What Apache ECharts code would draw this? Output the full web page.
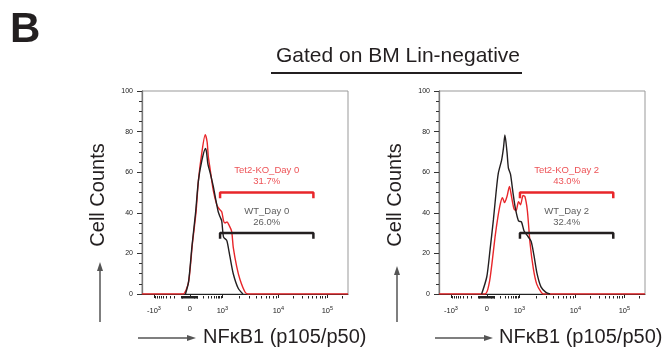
<!DOCTYPE html>
<html>
<head>
<meta charset="utf-8">
<script src="https://cdn.jsdelivr.net/npm/echarts@6/dist/echarts.min.js"></script>
<style>
html,body{margin:0;padding:0;background:#fff;}
#c{width:669px;height:352px;}
</style>
</head>
<body>
<div id="c"></div>
<script>
// x values are display channels (0-1000) of the biexponential NFkB1 scale
const xTickPos = [58, 232, 390, 662, 900];
const xTickLabels = ['-10{s|3}', '0', '10{s|3}', '10{s|4}', '10{s|5}'];

const koDay0 = [[0,0],[199,0],[214,2],[228,7],[245,25],[262,40],[274,56],[291,70],[307,78.5],[316,75],[322,67.6],[330,62],[346,51],[363,44],[374,42],[387,40.5],[396,36],[403,35],[413,35.5],[422,34],[435,31],[443,23],[460,13.4],[476,7],[500,1],[515,0],[1000,0]];
const wtDay0 = [[211,0],[226,6],[243,24],[260,40],[274,56],[291,66],[308,71.7],[313,70],[320,64],[330,60],[346,53],[359,46],[370,40.5],[379,38],[387,36],[396,28],[411,26.5],[417,24],[427,18.4],[443,10],[467,2.8],[490,0]];
const koDay2 = [[0,0],[223,0],[243,5],[257,15],[272,28],[286,38],[299,45],[308,47.5],[318,45],[330,48],[342,53],[352,48],[364,42],[374,41],[386,45.5],[396,44],[408,48.5],[417,48],[429,41],[442,25],[458,12.5],[474,5],[495,1],[506,0],[1000,0]];
const wtDay2 = [[207,0],[232,8.5],[248,22],[264,36.5],[277,50],[288,59.5],[304,66],[313,72],[320,78.3],[330,70],[337,62],[347,59],[359,50],[371,42],[386,36],[400,35.5],[413,31],[427,29],[447,26],[461,19],[476,10],[495,3.5],[519,0.8],[539,0]];

const gateDay0 = [379, 832];
const gateDay2 = [393, 846];
const gateLevelKO = 50;
const gateLevelWT = 30;
const labelsKO = ['Tet2-KO_Day 0', 'Tet2-KO_Day 2'];
const labelsWT = ['WT_Day 0', 'WT_Day 2'];
const pctKO = ['31.7%', '43.0%'];
const pctWT = ['26.0%', '32.4%'];

const RED = '#e8262a';
const BLK = '#231f20';

// minor tick positions of the display scale
function minorTicks() {
  const out = [];
  const zero = xTickPos[1];
  const w = 150, A = Math.asinh(1000 / w);
  for (let k = 1; k <= 9; k++) {
    out.push(zero + (xTickPos[2] - zero) * Math.asinh(k * 100 / w) / A);
    out.push(zero - (zero - xTickPos[0]) * Math.asinh(k * 100 / w) / A);
    out.push(zero + (xTickPos[2] - zero) * Math.asinh(k * 10 / w) / A);
    out.push(zero - (zero - xTickPos[0]) * Math.asinh(k * 10 / w) / A);
  }
  for (let k = 2; k <= 9; k++) {
    out.push(xTickPos[2] + (xTickPos[3] - xTickPos[2]) * Math.log10(k));
    out.push(xTickPos[3] + (xTickPos[4] - xTickPos[3]) * Math.log10(k));
    const p = xTickPos[4] + (xTickPos[4] - xTickPos[3]) * Math.log10(k);
    if (p <= 1000) out.push(p);
  }
  return out;
}
const minorPos = minorTicks();

const grids = [
  {left: 142, top: 91, width: 206, height: 203},
  {left: 439, top: 91, width: 206, height: 203}
];

function majorX(i) {
  return {
    gridIndex: i, type: 'value', min: 0, max: 1000, position: 'bottom', offset: 2,
    axisLine: {show: true, lineStyle: {color: '#222', width: 1}},
    axisTick: {show: true, customValues: xTickPos, length: 4, lineStyle: {color: '#222', width: 1}},
    axisLabel: {
      show: true, customValues: xTickPos, margin: 9, fontSize: 7.5, color: '#222',
      fontFamily: 'Liberation Sans, Arial, sans-serif',
      formatter: function (v) {
        const idx = xTickPos.indexOf(v);
        return idx >= 0 ? xTickLabels[idx] : '';
      },
      rich: {s: {fontSize: 5.5, verticalAlign: 'top', padding: [0, 0, 5, 0], color: '#222', fontFamily: 'Liberation Sans, Arial, sans-serif'}}
    },
    splitLine: {show: false}
  };
}
function minorX(i) {
  return {
    gridIndex: i, type: 'value', min: 0, max: 1000, position: 'bottom', offset: 2,
    axisLine: {show: false},
    axisTick: {show: true, customValues: minorPos, length: 2.5, lineStyle: {color: '#222', width: 1}},
    axisLabel: {show: false},
    splitLine: {show: false}
  };
}
function yAx(i) {
  return {
    gridIndex: i, type: 'value', min: 0, max: 100, interval: 20,
    axisLine: {show: true, lineStyle: {color: '#777', width: 1.3}},
    axisTick: {show: true, length: 5, lineStyle: {color: '#333', width: 1}},
    minorTick: {show: true, splitNumber: 4, length: 3, lineStyle: {color: '#333', width: 1}},
    axisLabel: {fontSize: 7, color: '#222', margin: 9, fontFamily: 'Liberation Sans, Arial, sans-serif'},
    splitLine: {show: false}
  };
}

function histo(data, color, xi, yi, z) {
  return {type: 'line', data: data, xAxisIndex: xi, yAxisIndex: yi, showSymbol: false, symbol: 'none',
    smooth: 0.25, z: z, lineStyle: {color: color, width: 1.4}, silent: true};
}
function gate(range, level, color, xi, yi) {
  return {type: 'line', xAxisIndex: xi, yAxisIndex: yi, symbol: 'none', showSymbol: false, z: 5,
    data: [[range[0], level - 2.8], [range[0], level], [range[1], level], [range[1], level - 2.8]],
    lineStyle: {color: color, width: 2.5}, silent: true};
}
function gateLabel(range, level, text, color, xi, yi) {
  return {type: 'scatter', xAxisIndex: xi, yAxisIndex: yi, symbolSize: 1, z: 6,
    itemStyle: {color: 'rgba(0,0,0,0)'},
    data: [[(range[0] + range[1]) / 2, level]],
    label: {show: true, position: 'top', distance: 5, formatter: text, color: color, fontSize: 9.5,
      lineHeight: 11, align: 'center', fontFamily: 'Liberation Sans, Arial, sans-serif'},
    silent: true};
}

const series = [
  histo(koDay0, RED, 0, 0, 3), histo(wtDay0, BLK, 0, 0, 4),
  gate(gateDay0, gateLevelKO, RED, 0, 0), gate(gateDay0, gateLevelWT, BLK, 0, 0),
  gateLabel(gateDay0, gateLevelKO, labelsKO[0] + '\n' + pctKO[0], RED, 0, 0),
  gateLabel(gateDay0, gateLevelWT, labelsWT[0] + '\n' + pctWT[0], '#333', 0, 0),
  histo(koDay2, RED, 2, 1, 3), histo(wtDay2, BLK, 2, 1, 4),
  gate(gateDay2, gateLevelKO, RED, 2, 1), gate(gateDay2, gateLevelWT, BLK, 2, 1),
  gateLabel(gateDay2, gateLevelKO, labelsKO[1] + '\n' + pctKO[1], RED, 2, 1),
  gateLabel(gateDay2, gateLevelWT, labelsWT[1] + '\n' + pctWT[1], '#333', 2, 1)
];

const FONT = 'Liberation Sans, Arial, sans-serif';
const GRAY = '#555';
function arrowUp(x, yBottom, yTip) {
  return [
    {type: 'line', shape: {x1: x, y1: yBottom, x2: x, y2: yTip + 7}, style: {stroke: GRAY, lineWidth: 1.5}},
    {type: 'polygon', shape: {points: [[x, yTip], [x - 3, yTip + 9], [x + 3, yTip + 9]]}, style: {fill: GRAY}}
  ];
}
function arrowRight(x1, x2, y) {
  return [
    {type: 'line', shape: {x1: x1, y1: y, x2: x2 - 7, y2: y}, style: {stroke: GRAY, lineWidth: 1.5}},
    {type: 'polygon', shape: {points: [[x2, y], [x2 - 9, y - 3], [x2 - 9, y + 3]]}, style: {fill: GRAY}}
  ];
}
const graphics = [
  {type: 'text', left: 10, top: 9, style: {text: 'B', font: 'bold 42px ' + FONT, fill: '#231f20'}},
  {type: 'text', x: 398, y: 56, style: {text: 'Gated on BM Lin-negative', font: '21px ' + FONT, fill: '#231f20', align: 'center', verticalAlign: 'middle'}},
  {type: 'line', shape: {x1: 271, y1: 73, x2: 522, y2: 73}, style: {stroke: '#231f20', lineWidth: 2}},
  {type: 'text', x: 98, y: 195, rotation: Math.PI / 2, style: {text: 'Cell Counts', font: '20px ' + FONT, fill: '#231f20', align: 'center', verticalAlign: 'middle'}},
  {type: 'text', x: 395, y: 195, rotation: Math.PI / 2, style: {text: 'Cell Counts', font: '20px ' + FONT, fill: '#231f20', align: 'center', verticalAlign: 'middle'}},
  {type: 'text', x: 203, y: 337, style: {text: 'NF\u03baB1 (p105/p50)', font: '20px ' + FONT, fill: '#231f20', align: 'left', verticalAlign: 'middle'}},
  {type: 'text', x: 499, y: 337, style: {text: 'NF\u03baB1 (p105/p50)', font: '20px ' + FONT, fill: '#231f20', align: 'left', verticalAlign: 'middle'}}
].concat(arrowUp(100, 322, 262), arrowUp(397, 322, 266), arrowRight(138, 196, 338), arrowRight(435, 493, 338));

const chart = echarts.init(document.getElementById('c'), null, {renderer: 'canvas'});
chart.setOption({
  animation: false,
  backgroundColor: '#fff',
  grid: grids.map(g => Object.assign({show: true, borderColor: '#999', borderWidth: 1, backgroundColor: 'transparent'}, g)),
  xAxis: [majorX(0), minorX(0), majorX(1), minorX(1)],
  yAxis: [yAx(0), yAx(1)],
  series: series,
  graphic: graphics
});
</script>
</body>
</html>
